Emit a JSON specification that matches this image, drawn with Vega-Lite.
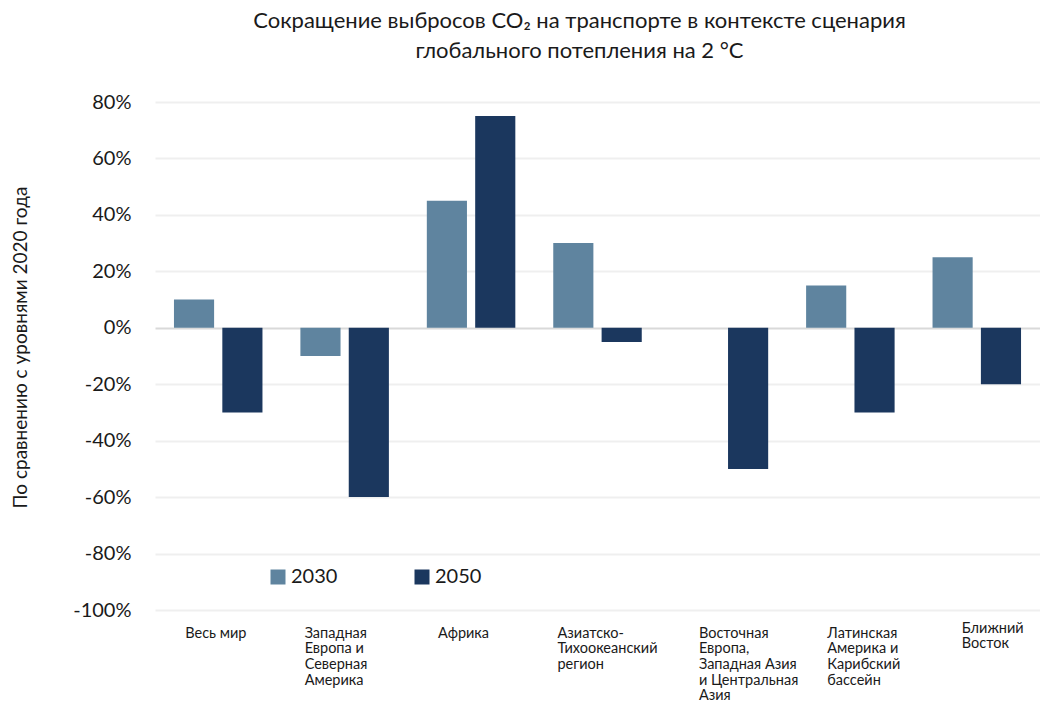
{
  "$schema": "https://vega.github.io/schema/vega-lite/v6.json",
  "width": 885,
  "height": 508,
  "autosize": {"type": "none"},
  "padding": {"left": 155, "top": 102, "right": 0, "bottom": 92},
  "background": "white",
  "title": {
    "text": ["Сокращение выбросов CO₂ на транспорте в контексте сценария", "глобального потепления на 2 °C"],
    "fontSize": 22,
    "font": "Lato",
    "fontWeight": "normal",
    "color": "#1a1a1a",
    "lineHeight": 30,
    "anchor": "middle",
    "dx": -18,
    "offset": 29
  },
  "data": {
    "values": [
      {"region": "Весь мир", "year": "2030", "value": 10},
      {"region": "Весь мир", "year": "2050", "value": -30},
      {"region": "Западная Европа и Северная Америка", "year": "2030", "value": -10},
      {"region": "Западная Европа и Северная Америка", "year": "2050", "value": -60},
      {"region": "Африка", "year": "2030", "value": 45},
      {"region": "Африка", "year": "2050", "value": 75},
      {"region": "Азиатско-Тихоокеанский регион", "year": "2030", "value": 30},
      {"region": "Азиатско-Тихоокеанский регион", "year": "2050", "value": -5},
      {"region": "Восточная Европа, Западная Азия и Центральная Азия", "year": "2030", "value": 0},
      {"region": "Восточная Европа, Западная Азия и Центральная Азия", "year": "2050", "value": -50},
      {"region": "Латинская Америка и Карибский бассейн", "year": "2030", "value": 15},
      {"region": "Латинская Америка и Карибский бассейн", "year": "2050", "value": -30},
      {"region": "Ближний Восток", "year": "2030", "value": 25},
      {"region": "Ближний Восток", "year": "2050", "value": -20}
    ]
  },
  "mark": {"type": "bar"},
  "encoding": {
    "x": {
      "field": "region",
      "type": "nominal",
      "sort": null,
      "scale": {"paddingInner": 0.3, "paddingOuter": 0.15},
      "axis": {
        "title": null,
        "domain": false,
        "ticks": false,
        "labelAngle": 0,
        "labelFontSize": 14.5,
        "labelFont": "Lato",
        "labelColor": "#1a1a1a",
        "labelPadding": {"condition": {"test": "datum.value === 'Ближний Восток'", "value": 11}, "value": 16},
        "labelBaseline": "top",
        "labelLineHeight": 15.7,
        "labelAlign": "left",
        "labelExpr": "({'Весь мир':['Весь мир'],'Западная Европа и Северная Америка':['Западная','Европа и','Северная','Америка'],'Африка':['Африка'],'Азиатско-Тихоокеанский регион':['Азиатско-','Тихоокеанский','регион'],'Восточная Европа, Западная Азия и Центральная Азия':['Восточная','Европа,','Западная Азия','и Центральная','Азия'],'Латинская Америка и Карибский бассейн':['Латинская','Америка и','Карибский','бассейн'],'Ближний Восток':['Ближний','Восток']})[datum.value]",
        "labelOffset": {"expr": "({'Весь мир':-33,'Западная Европа и Северная Америка':-40,'Африка':-33,'Азиатско-Тихоокеанский регион':-40,'Восточная Европа, Западная Азия и Центральная Азия':-25,'Латинская Америка и Карибский бассейн':-23,'Ближний Восток':-15})[datum.value]"}
      }
    },
    "xOffset": {"field": "year", "type": "nominal", "scale": {"paddingInner": 0.17}},
    "y": {
      "field": "value",
      "type": "quantitative",
      "scale": {"domain": [-100, 80], "nice": false},
      "axis": {
        "values": [-100, -80, -60, -40, -20, 0, 20, 40, 60, 80],
        "labelExpr": "datum.value + '%'",
        "domain": false,
        "ticks": false,
        "labelFontSize": 20,
        "labelFont": "Lato",
        "labelColor": "#1a1a1a",
        "labelPadding": 24,
        "title": "По сравнению с уровнями 2020 года",
        "titleFont": "Lato",
        "titleFontSize": 19,
        "titleFontWeight": "normal",
        "titleColor": "#1a1a1a",
        "titlePadding": 42,
        "titleY": 245,
        "grid": true,
        "gridColor": {"condition": {"test": "datum.value === 0", "value": "#d9d9d9"}, "value": "#efefef"},
        "gridWidth": 2
      }
    },
    "color": {
      "field": "year",
      "type": "nominal",
      "scale": {"domain": ["2030", "2050"], "range": ["#5f849f", "#1b375e"]},
      "legend": {
        "title": null,
        "orient": "none",
        "legendX": 113,
        "legendY": 465,
        "direction": "horizontal",
        "columns": 2,
        "columnPadding": 74,
        "symbolType": "square",
        "symbolSize": 225,
        "symbolStrokeWidth": 0,
        "labelFontSize": 20,
        "labelFont": "Lato",
        "labelColor": "#1a1a1a",
        "labelOffset": 3
      }
    }
  },
  "config": {"view": {"stroke": null}}
}
